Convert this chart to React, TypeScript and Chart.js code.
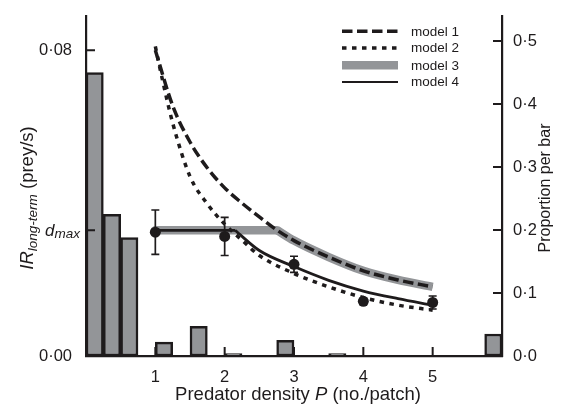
import React, { useEffect, useRef } from 'react';
import { Chart, registerables } from 'chart.js';

Chart.register(...registerables);

// ---------- data ----------
const histCenters = [0.125, 0.375, 0.625, 1.125, 1.625, 2.125, 2.875, 3.625, 5.875];
const histProportion = [0.45, 0.225, 0.188, 0.022, 0.047, 0.004, 0.025, 0.004, 0.035];

const densities = [1, 2, 3, 4, 5];
const irMeans = [0.0324, 0.0313, 0.024, 0.0143, 0.014];
const irErrors = [0.0058, 0.005, 0.0021, 0.0008, 0.0017];

const DMAX = 0.0329;

const model1P = [1, 1.25, 1.5, 1.75, 2, 2.25, 2.5, 2.75, 3, 3.5, 4, 4.5, 5];
const model1IR = [0.08, 0.0655, 0.056, 0.0492, 0.044, 0.04, 0.0364, 0.033, 0.0302, 0.0259, 0.0223, 0.0199, 0.0181];

const model2P = [1, 1.1, 1.25, 1.5, 1.75, 2, 2.25, 2.5, 3, 3.5, 4, 4.5, 5];
const model2IR = [0.081, 0.0725, 0.061, 0.047, 0.0398, 0.0345, 0.0303, 0.0263, 0.0216, 0.0181, 0.0153, 0.0133, 0.012];

const model3FlatP = [1, 2.75];
const model3CurveP = [2.75, 3, 3.5, 4, 4.5, 5];
const model3CurveIR = [0.033, 0.0302, 0.0259, 0.0223, 0.0199, 0.0181];

const model4FlatP = [1, 2.15];
const model4CurveP = [2.15, 2.5, 3, 3.5, 4, 4.5, 5];
const model4CurveIR = [0.0329, 0.0276, 0.0234, 0.0198, 0.017, 0.015, 0.0133];

const xTickValues = [1, 2, 3, 4, 5];
const xTickLabels = ['1', '2', '3', '4', '5'];
const leftTickValues = [0, DMAX, 0.08];
const leftTickLabels = ['0·00', '', '0·08'];
const rightTickValues = [0, 0.1, 0.2, 0.3, 0.4, 0.5];
const rightTickLabels = ['0·0', '0·1', '0·2', '0·3', '0·4', '0·5'];

const legendLabels = ['model 1', 'model 2', 'model 3', 'model 4'];

// ---------- styles ----------
const INK = '#1e1b1c';
const GREY = '#939598';
const FAM = '"Liberation Sans", Arial, Helvetica, sans-serif';

const pts = (xs: number[], ys: number[]) => xs.map((x, i) => ({ x, y: ys[i] }));
const flat = (xs: number[]) => xs.map((x) => ({ x, y: DMAX }));

const dashStyle = { borderColor: INK, borderWidth: 3.5, borderDash: [10.5, 4.5] };
const dotStyle = { borderColor: INK, borderWidth: 3.5, borderDash: [4.5, 5.5] };
const greyStyle = { borderColor: GREY, borderWidth: 8.5, borderDash: [] as number[] };
const solidStyle = { borderColor: INK, borderWidth: 2.8, borderDash: [] as number[] };
const legendStyles = [dashStyle, dotStyle, greyStyle, { ...solidStyle, borderWidth: 2.2 }];

type Run = { text: string; font: string; dy?: number };
function runsWidth(ctx: CanvasRenderingContext2D, runs: Run[]) {
  let w = 0;
  for (const r of runs) {
    ctx.font = r.font;
    w += ctx.measureText(r.text).width;
  }
  return w;
}
function drawRuns(ctx: CanvasRenderingContext2D, runs: Run[], x: number, y: number) {
  let cx = x;
  for (const r of runs) {
    ctx.font = r.font;
    ctx.fillText(r.text, cx, y + (r.dy || 0));
    cx += ctx.measureText(r.text).width;
  }
}

const overlayPlugin = {
  id: 'overlay',
  afterDatasetsDraw(chart: any) {
    const { ctx, scales } = chart;
    const xs = scales.x;
    const ys = scales.y;
    ctx.save();
    ctx.strokeStyle = INK;
    ctx.lineWidth = 1.7;
    densities.forEach((d, i) => {
      const px = xs.getPixelForValue(d);
      const top = ys.getPixelForValue(irMeans[i] + irErrors[i]);
      const bot = ys.getPixelForValue(irMeans[i] - irErrors[i]);
      ctx.beginPath();
      ctx.moveTo(px, top);
      ctx.lineTo(px, bot);
      ctx.moveTo(px - 4, top);
      ctx.lineTo(px + 4, top);
      ctx.moveTo(px - 4, bot);
      ctx.lineTo(px + 4, bot);
      ctx.stroke();
    });
    ctx.restore();
  },
  afterDraw(chart: any) {
    const { ctx, scales, chartArea } = chart;
    const xs = scales.x;
    const ys = scales.y;
    const ys2 = scales.y2;
    ctx.save();
    // inward tick marks
    ctx.strokeStyle = INK;
    ctx.lineWidth = 2;
    ctx.beginPath();
    xTickValues.forEach((v) => {
      const px = xs.getPixelForValue(v);
      ctx.moveTo(px, chartArea.bottom);
      ctx.lineTo(px, chartArea.bottom - 9);
    });
    leftTickValues.forEach((v) => {
      const py = ys.getPixelForValue(v);
      ctx.moveTo(chartArea.left, py);
      ctx.lineTo(chartArea.left + 9, py);
    });
    rightTickValues.forEach((v) => {
      const py = ys2.getPixelForValue(v);
      ctx.moveTo(chartArea.right, py);
      ctx.lineTo(chartArea.right - 9, py);
    });
    ctx.stroke();

    ctx.fillStyle = INK;
    ctx.textBaseline = 'alphabetic';
    ctx.textAlign = 'left';

    // d_max tick label
    const dRuns: Run[] = [
      { text: 'd', font: `italic 17px ${FAM}` },
      { text: 'max', font: `italic 13.5px ${FAM}`, dy: 2 },
    ];
    const dy = ys.getPixelForValue(DMAX);
    const dw = runsWidth(ctx, dRuns);
    drawRuns(ctx, dRuns, chartArea.left - 6 - dw, dy + 5.5);

    // x title
    const xRuns: Run[] = [
      { text: 'Predator density ', font: `18.5px ${FAM}` },
      { text: 'P', font: `italic 18.5px ${FAM}` },
      { text: ' (no./patch)', font: `18.5px ${FAM}` },
    ];
    const xw = runsWidth(ctx, xRuns);
    drawRuns(ctx, xRuns, 298 - xw / 2, 399.5);

    // left title
    const yRuns: Run[] = [
      { text: 'IR', font: `italic 18.5px ${FAM}` },
      { text: 'long-term', font: `italic 13.5px ${FAM}`, dy: 3.5 },
      { text: ' (prey/s)', font: `18.5px ${FAM}` },
    ];
    const yw = runsWidth(ctx, yRuns);
    ctx.save();
    ctx.translate(33, 198);
    ctx.rotate(-Math.PI / 2);
    drawRuns(ctx, yRuns, -yw / 2, 0);
    ctx.restore();

    // right title
    const rRuns: Run[] = [{ text: 'Proportion per bar', font: `16px ${FAM}` }];
    const rw = runsWidth(ctx, rRuns);
    ctx.save();
    ctx.translate(550, 188);
    ctx.rotate(-Math.PI / 2);
    drawRuns(ctx, rRuns, -rw / 2, 0);
    ctx.restore();

    // legend
    const rows = [31.3, 48, 65.3, 82];
    legendLabels.forEach((lab, i) => {
      const st = legendStyles[i];
      ctx.save();
      ctx.strokeStyle = st.borderColor;
      ctx.lineWidth = st.borderWidth;
      ctx.setLineDash(st.borderDash);
      ctx.lineCap = 'butt';
      ctx.beginPath();
      ctx.moveTo(342, rows[i]);
      ctx.lineTo(398, rows[i]);
      ctx.stroke();
      ctx.restore();
      ctx.font = `13.5px ${FAM}`;
      ctx.textBaseline = 'middle';
      ctx.fillText(lab, 411, rows[i] + 0.5);
    });
    ctx.restore();
  },
};

const lineBase = {
  type: 'line' as const,
  pointRadius: 0,
  fill: false,
  yAxisID: 'y',
  cubicInterpolationMode: 'monotone' as const,
  borderCapStyle: 'butt' as const,
};

export default function App() {
  const ref = useRef<HTMLCanvasElement>(null);
  useEffect(() => {
    document.body.style.margin = '0';
    const tickFont = { family: FAM, size: 16.5 };
    const chart = new Chart(ref.current as HTMLCanvasElement, {
      type: 'line',
      data: {
        datasets: [
          {
            type: 'line',
            label: 'observed',
            data: pts(densities, irMeans),
            showLine: false,
            pointRadius: 5.5,
            pointBackgroundColor: INK,
            pointBorderWidth: 0,
            yAxisID: 'y',
            order: 0,
          },
          { ...lineBase, label: 'model 4', data: flat(model4FlatP), ...solidStyle, order: 1 },
          { ...lineBase, label: 'model 4b', data: pts(model4CurveP, model4CurveIR), ...solidStyle, order: 1 },
          { ...lineBase, label: 'model 2', data: pts(model2P, model2IR), ...dotStyle, order: 2 },
          { ...lineBase, label: 'model 1', data: pts(model1P, model1IR), ...dashStyle, order: 3 },
          { ...lineBase, label: 'model 3', data: flat(model3FlatP), ...greyStyle, borderCapStyle: 'round', order: 4 },
          { ...lineBase, label: 'model 3b', data: pts(model3CurveP, model3CurveIR), ...greyStyle, order: 4 },
          {
            type: 'bar',
            label: 'proportion',
            data: pts(histCenters, histProportion),
            yAxisID: 'y2',
            backgroundColor: GREY,
            borderColor: INK,
            borderWidth: 2.5,
            borderSkipped: false,
            barPercentage: 1,
            categoryPercentage: 1,
            order: 5,
          },
        ] as any,
      },
      options: {
        responsive: false,
        animation: false,
        devicePixelRatio: 1,
        layout: { padding: { top: 10, left: 0, right: 0, bottom: 0 } },
        plugins: { legend: { display: false }, tooltip: { enabled: false } },
        scales: {
          x: {
            type: 'linear',
            min: 0,
            max: 6,
            offset: false,
            position: 'bottom',
            grid: { display: false },
            border: { display: true, color: INK, width: 2.2 },
            afterBuildTicks: (s: any) => {
              s.ticks = xTickValues.map((v) => ({ value: v }));
            },
            ticks: {
              autoSkip: false,
              maxRotation: 0,
              padding: 4,
              color: INK,
              font: tickFont,
              callback: (_v: any, i: number) => xTickLabels[i],
            },
            afterFit: (s: any) => {
              s.height = 52;
            },
          },
          y: {
            type: 'linear',
            position: 'left',
            min: 0,
            max: 0.089,
            grid: { display: false },
            border: { display: true, color: INK, width: 2.2 },
            afterBuildTicks: (s: any) => {
              s.ticks = leftTickValues.map((v) => ({ value: v }));
            },
            ticks: {
              autoSkip: false,
              padding: 6,
              color: INK,
              font: tickFont,
              callback: (_v: any, i: number) => leftTickLabels[i],
            },
            afterFit: (s: any) => {
              s.width = 86;
            },
          },
          y2: {
            type: 'linear',
            position: 'right',
            min: 0,
            max: 0.54,
            grid: { display: false },
            border: { display: true, color: INK, width: 2.2 },
            afterBuildTicks: (s: any) => {
              s.ticks = rightTickValues.map((v) => ({ value: v }));
            },
            ticks: {
              autoSkip: false,
              padding: 3,
              color: INK,
              font: tickFont,
              callback: (_v: any, i: number) => rightTickLabels[i],
            },
            afterFit: (s: any) => {
              s.width = 66;
            },
          },
        },
      } as any,
      plugins: [overlayPlugin],
    });
    return () => chart.destroy();
  }, []);
  return (
    <div style={{ width: 568, height: 408 }}>
      <canvas ref={ref} width={568} height={408} style={{ display: 'block' }} />
    </div>
  );
}
